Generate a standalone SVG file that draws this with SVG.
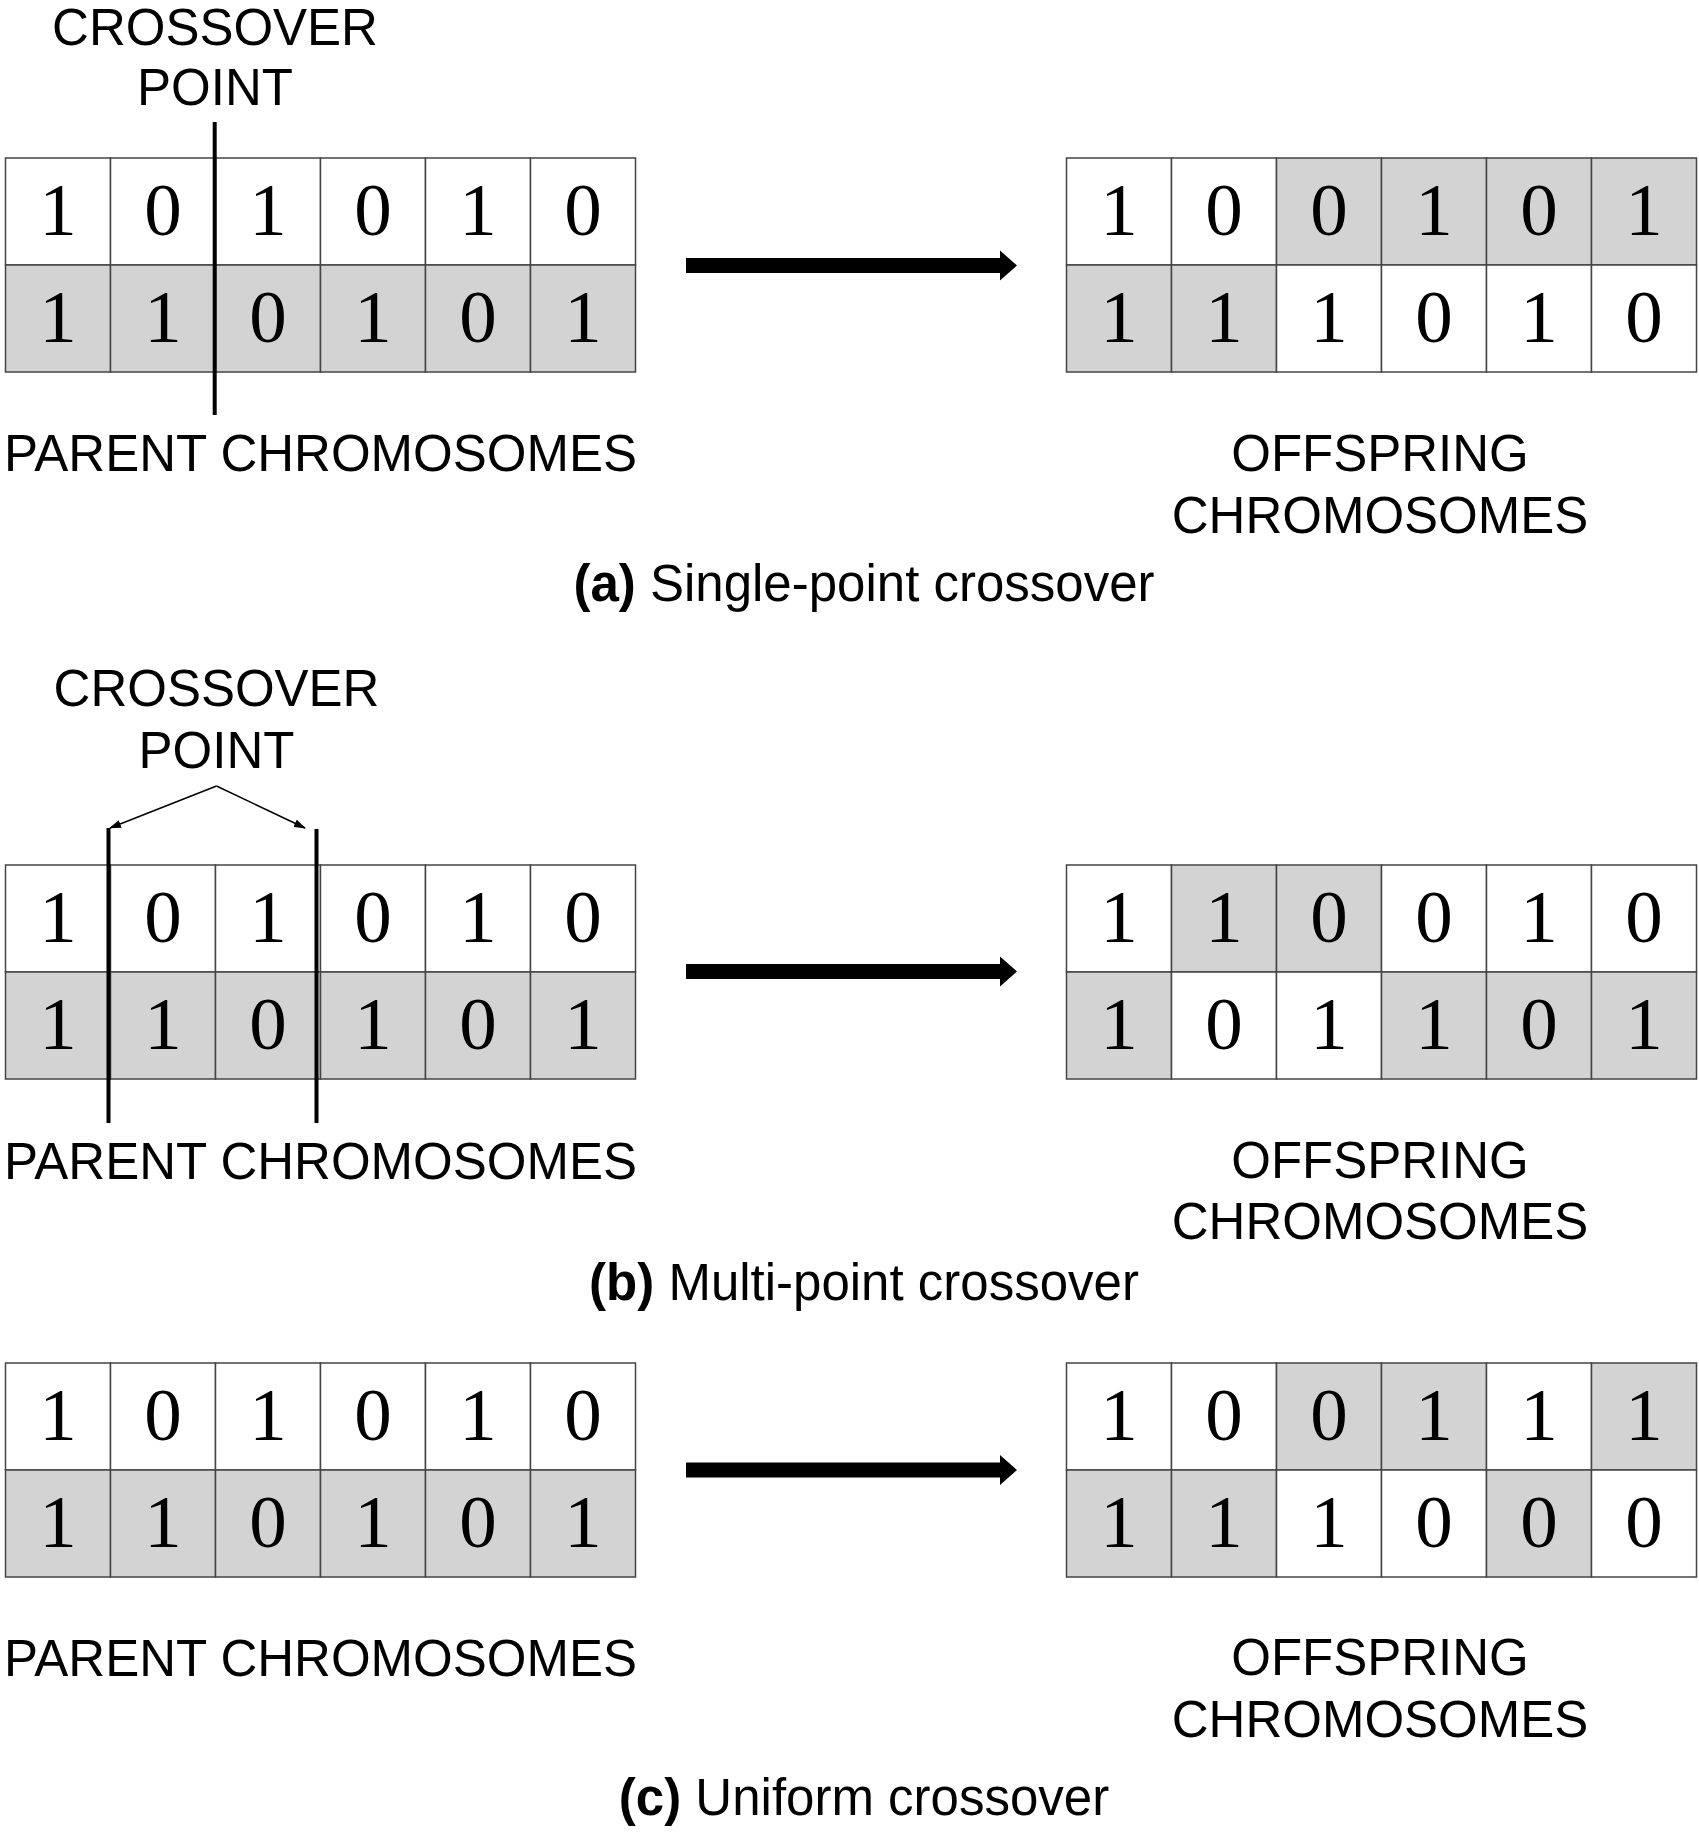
<svg xmlns="http://www.w3.org/2000/svg" width="1699" height="1832" viewBox="0 0 1699 1832">
<style>
.w{fill:#ffffff;stroke:#444;stroke-width:1.5}
.g{fill:#d3d3d3;stroke:#444;stroke-width:1.5}
.d{font-family:"Liberation Serif","Times New Roman",serif;font-size:75px;fill:#000;text-anchor:middle}
.lbl{font-family:"Liberation Sans",Arial,sans-serif;font-size:51px;fill:#000;text-anchor:middle}
.cap{font-family:"Liberation Sans",Arial,sans-serif;font-size:51px;fill:#000;text-anchor:middle}
.cut{stroke:#000;stroke-width:4;fill:none}
.thin{stroke:#000;stroke-width:1.5;fill:none;marker-end:url(#ah)}
.big{fill:#000}
</style>
<defs>
<marker id="ah" viewBox="0 0 12 8" refX="11" refY="4" markerWidth="12" markerHeight="8" markerUnits="userSpaceOnUse" orient="auto">
<path d="M0,0 L12,4 L0,8 z" fill="#000"/>
</marker>
<g id="parentCells">
<rect class="w" x="0" y="0" width="105" height="107"/><rect class="w" x="105" y="0" width="105" height="107"/><rect class="w" x="210" y="0" width="105" height="107"/><rect class="w" x="315" y="0" width="105" height="107"/><rect class="w" x="420" y="0" width="105" height="107"/><rect class="w" x="525" y="0" width="105" height="107"/>
<rect class="g" x="0" y="107" width="105" height="107"/><rect class="g" x="105" y="107" width="105" height="107"/><rect class="g" x="210" y="107" width="105" height="107"/><rect class="g" x="315" y="107" width="105" height="107"/><rect class="g" x="420" y="107" width="105" height="107"/><rect class="g" x="525" y="107" width="105" height="107"/>
<text class="d" x="52.5" y="77">1</text><text class="d" x="157.5" y="77">0</text><text class="d" x="262.5" y="77">1</text><text class="d" x="367.5" y="77">0</text><text class="d" x="472.5" y="77">1</text><text class="d" x="577.5" y="77">0</text>
<text class="d" x="52.5" y="184">1</text><text class="d" x="157.5" y="184">1</text><text class="d" x="262.5" y="184">0</text><text class="d" x="367.5" y="184">1</text><text class="d" x="472.5" y="184">0</text><text class="d" x="577.5" y="184">1</text>
</g>
</defs>

<!-- (a) Single-point crossover -->
<g id="parent-a" transform="translate(5.5,158)"><use href="#parentCells"/></g>
<g id="offspring-a" transform="translate(1066.5,158)">
<rect class="w" x="0" y="0" width="105" height="107"/><rect class="w" x="105" y="0" width="105" height="107"/><rect class="g" x="210" y="0" width="105" height="107"/><rect class="g" x="315" y="0" width="105" height="107"/><rect class="g" x="420" y="0" width="105" height="107"/><rect class="g" x="525" y="0" width="105" height="107"/>
<rect class="g" x="0" y="107" width="105" height="107"/><rect class="g" x="105" y="107" width="105" height="107"/><rect class="w" x="210" y="107" width="105" height="107"/><rect class="w" x="315" y="107" width="105" height="107"/><rect class="w" x="420" y="107" width="105" height="107"/><rect class="w" x="525" y="107" width="105" height="107"/>
<text class="d" x="52.5" y="77">1</text><text class="d" x="157.5" y="77">0</text><text class="d" x="262.5" y="77">0</text><text class="d" x="367.5" y="77">1</text><text class="d" x="472.5" y="77">0</text><text class="d" x="577.5" y="77">1</text>
<text class="d" x="52.5" y="184">1</text><text class="d" x="157.5" y="184">1</text><text class="d" x="262.5" y="184">1</text><text class="d" x="367.5" y="184">0</text><text class="d" x="472.5" y="184">1</text><text class="d" x="577.5" y="184">0</text>
</g>
<g id="label-crossover-a">
<text class="lbl" x="215" y="45">CROSSOVER</text>
<text class="lbl" x="215" y="105">POINT</text>
</g>
<g id="label-parent-a"><text class="lbl" x="320.5" y="471">PARENT CHROMOSOMES</text></g>
<g id="label-offspring-a"><text class="lbl" x="1380" y="471">OFFSPRING</text><text class="lbl" x="1380" y="533">CHROMOSOMES</text></g>
<g id="caption-a"><text class="cap" x="864" y="601"><tspan font-weight="bold">(a)</tspan> Single-point crossover</text></g>

<!-- (b) Multi-point crossover -->
<g id="parent-b" transform="translate(5.5,865)"><use href="#parentCells"/></g>
<g id="offspring-b" transform="translate(1066.5,865)">
<rect class="w" x="0" y="0" width="105" height="107"/><rect class="g" x="105" y="0" width="105" height="107"/><rect class="g" x="210" y="0" width="105" height="107"/><rect class="w" x="315" y="0" width="105" height="107"/><rect class="w" x="420" y="0" width="105" height="107"/><rect class="w" x="525" y="0" width="105" height="107"/>
<rect class="g" x="0" y="107" width="105" height="107"/><rect class="w" x="105" y="107" width="105" height="107"/><rect class="w" x="210" y="107" width="105" height="107"/><rect class="g" x="315" y="107" width="105" height="107"/><rect class="g" x="420" y="107" width="105" height="107"/><rect class="g" x="525" y="107" width="105" height="107"/>
<text class="d" x="52.5" y="77">1</text><text class="d" x="157.5" y="77">1</text><text class="d" x="262.5" y="77">0</text><text class="d" x="367.5" y="77">0</text><text class="d" x="472.5" y="77">1</text><text class="d" x="577.5" y="77">0</text>
<text class="d" x="52.5" y="184">1</text><text class="d" x="157.5" y="184">0</text><text class="d" x="262.5" y="184">1</text><text class="d" x="367.5" y="184">1</text><text class="d" x="472.5" y="184">0</text><text class="d" x="577.5" y="184">1</text>
</g>
<g id="label-crossover-b">
<text class="lbl" x="216.5" y="706">CROSSOVER</text>
<text class="lbl" x="216.5" y="768">POINT</text>
</g>
<g id="label-parent-b"><text class="lbl" x="320.5" y="1179">PARENT CHROMOSOMES</text></g>
<g id="label-offspring-b"><text class="lbl" x="1380" y="1178">OFFSPRING</text><text class="lbl" x="1380" y="1239">CHROMOSOMES</text></g>
<g id="caption-b"><text class="cap" x="864" y="1300"><tspan font-weight="bold">(b)</tspan> Multi-point crossover</text></g>

<!-- (c) Uniform crossover -->
<g id="parent-c" transform="translate(5.5,1363)"><use href="#parentCells"/></g>
<g id="offspring-c" transform="translate(1066.5,1363)">
<rect class="w" x="0" y="0" width="105" height="107"/><rect class="w" x="105" y="0" width="105" height="107"/><rect class="g" x="210" y="0" width="105" height="107"/><rect class="g" x="315" y="0" width="105" height="107"/><rect class="w" x="420" y="0" width="105" height="107"/><rect class="g" x="525" y="0" width="105" height="107"/>
<rect class="g" x="0" y="107" width="105" height="107"/><rect class="g" x="105" y="107" width="105" height="107"/><rect class="w" x="210" y="107" width="105" height="107"/><rect class="w" x="315" y="107" width="105" height="107"/><rect class="g" x="420" y="107" width="105" height="107"/><rect class="w" x="525" y="107" width="105" height="107"/>
<text class="d" x="52.5" y="77">1</text><text class="d" x="157.5" y="77">0</text><text class="d" x="262.5" y="77">0</text><text class="d" x="367.5" y="77">1</text><text class="d" x="472.5" y="77">1</text><text class="d" x="577.5" y="77">1</text>
<text class="d" x="52.5" y="184">1</text><text class="d" x="157.5" y="184">1</text><text class="d" x="262.5" y="184">1</text><text class="d" x="367.5" y="184">0</text><text class="d" x="472.5" y="184">0</text><text class="d" x="577.5" y="184">0</text>
</g>
<g id="label-parent-c"><text class="lbl" x="320.5" y="1676">PARENT CHROMOSOMES</text></g>
<g id="label-offspring-c"><text class="lbl" x="1380" y="1675">OFFSPRING</text><text class="lbl" x="1380" y="1737">CHROMOSOMES</text></g>
<g id="caption-c"><text class="cap" x="864" y="1815"><tspan font-weight="bold">(c)</tspan> Uniform crossover</text></g>

<!-- connectors -->
<g id="connectors">
<line class="cut" x1="214.7" y1="122" x2="214.7" y2="415"/>
<line class="cut" x1="108.5" y1="828" x2="108.5" y2="1123"/>
<line class="cut" x1="316.5" y1="829" x2="316.5" y2="1123"/>
<line class="thin" x1="216.5" y1="786" x2="110" y2="828"/>
<line class="thin" x1="216.5" y1="786" x2="305" y2="828"/>
<path class="big" d="M686,258 L1000,258 L1000,250.5 L1017,265.5 L1000,280.5 L1000,273 L686,273 Z"/>
<path class="big" d="M686,964 L1000,964 L1000,956.5 L1017,971.5 L1000,986.5 L1000,979 L686,979 Z"/>
<path class="big" d="M686,1462.5 L1000,1462.5 L1000,1455 L1017,1470 L1000,1485 L1000,1477.5 L686,1477.5 Z"/>
</g>
</svg>
